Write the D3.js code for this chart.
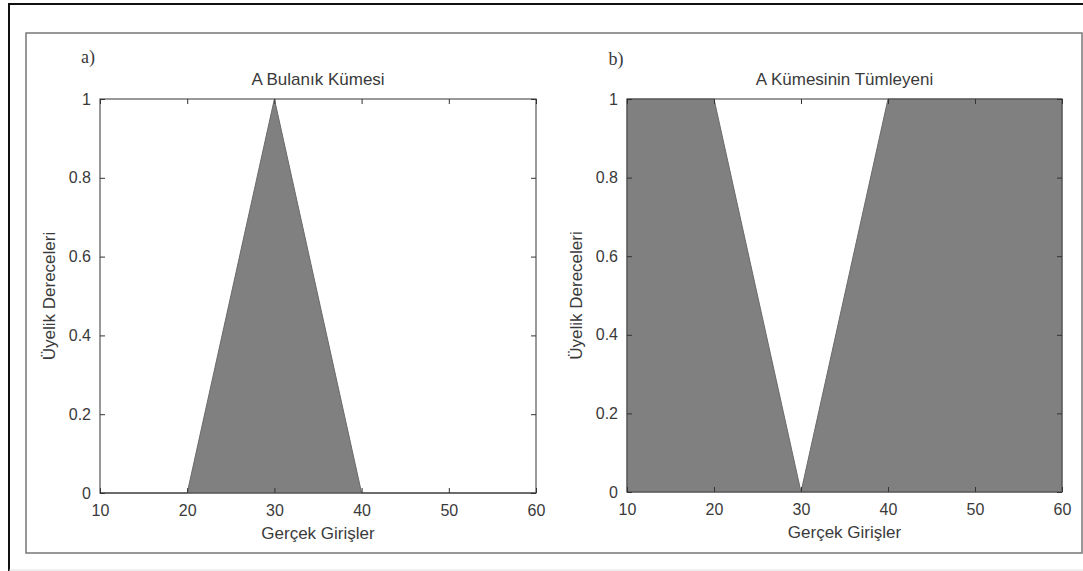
<!DOCTYPE html>
<html>
<head>
<meta charset="utf-8">
<script src="https://cdn.jsdelivr.net/npm/d3@7"></script>
<style>
  body { margin: 0; background: #fff; }
  svg text { font-family: "Liberation Sans", Arial, sans-serif; fill: #3a3a3a; }
</style>
</head>
<body>
<svg id="fig" width="1083" height="571"></svg>
<script>
// breakpoints of the triangular fuzzy set A and its complement
var xPoints = [10, 20, 30, 40, 60];
var membershipA = [0, 0, 1, 0, 0];
var complementA = [1, 1, 0, 1, 1];
var xTicks = [10, 20, 30, 40, 50, 60];
var yTicks = [0, 0.2, 0.4, 0.6, 0.8, 1];
var panelTags = ["a)", "b)"];
var panelTitles = ["A Bulanık Kümesi", "A Kümesinin Tümleyeni"];
var xLabel = "Gerçek Girişler";
var yLabel = "Üyelik Dereceleri";

var svg = d3.select("#fig");

// outer frame: black on top and left, light line at bottom
svg.append("path").attr("d", "M9,571V4H1083")
    .attr("fill", "none").attr("stroke", "#111").attr("stroke-width", 2);
svg.append("line").attr("x1", 9).attr("x2", 1083).attr("y1", 570).attr("y2", 570)
    .attr("stroke", "#ddd").attr("stroke-width", 1);
// inner gray frame
svg.append("rect").attr("x", 26).attr("y", 33).attr("width", 1056).attr("height", 520)
    .attr("fill", "#fff").attr("stroke", "#777").attr("stroke-width", 1.5);

var panels = [
    { left: 100, right: 536, top: 99, bottom: 493, values: membershipA, tagX: 88, tagY: 63 },
    { left: 627, right: 1062, top: 99, bottom: 492, values: complementA, tagX: 616, tagY: 65 }
];

panels.forEach(function (p, k) {
    var x = d3.scaleLinear().domain([10, 60]).range([p.left, p.right]);
    var y = d3.scaleLinear().domain([0, 1]).range([p.bottom, p.top]);
    var g = svg.append("g");

    var pts = xPoints.map(function (d, i) { return [d, p.values[i]]; });
    var area = d3.area()
        .x(function (d) { return x(d[0]); })
        .y0(y(0))
        .y1(function (d) { return y(d[1]); });
    g.append("path").datum(pts)
        .attr("d", area)
        .attr("fill", "#808080")
        .attr("stroke", "#6a6a6a")
        .attr("stroke-width", 1);

    // box
    g.append("rect").attr("x", p.left).attr("y", p.top)
        .attr("width", p.right - p.left).attr("height", p.bottom - p.top)
        .attr("fill", "none").attr("stroke", "#555").attr("stroke-width", 1.2);

    var tl = 5;
    var axB = d3.axisBottom(x).tickValues(xTicks).tickSizeInner(-tl).tickSizeOuter(0).tickPadding(12);
    var axT = d3.axisTop(x).tickValues(xTicks).tickSizeInner(-tl).tickSizeOuter(0).tickFormat("");
    var axL = d3.axisLeft(y).tickValues(yTicks).tickSizeInner(-tl).tickSizeOuter(0).tickPadding(9)
        .tickFormat(function (d) { return d3.format("~g")(d); });
    var axR = d3.axisRight(y).tickValues(yTicks).tickSizeInner(-tl).tickSizeOuter(0).tickFormat("");

    [[axB, "translate(0," + p.bottom + ")"], [axT, "translate(0," + p.top + ")"],
     [axL, "translate(" + p.left + ",0)"], [axR, "translate(" + p.right + ",0)"]].forEach(function (a) {
        var ax = g.append("g").attr("transform", a[1]).call(a[0]);
        ax.select(".domain").remove();
        ax.selectAll("line").attr("stroke", "#333");
        ax.selectAll("text").style("font-size", "16px").attr("fill", "#3a3a3a")
            .style("font-family", "'Liberation Sans', Arial, sans-serif");
    });

    var cx = (p.left + p.right) / 2;
    g.append("text").attr("x", cx).attr("y", p.top - 14).attr("text-anchor", "middle")
        .style("font-size", "17px").text(panelTitles[k]);
    g.append("text").attr("x", cx).attr("y", p.bottom + 46).attr("text-anchor", "middle")
        .style("font-size", "17px").text(xLabel);
    g.append("text").attr("transform", "translate(" + (p.left - 45) + "," + ((p.top + p.bottom) / 2) + ") rotate(-90)")
        .attr("text-anchor", "middle").style("font-size", "17px").text(yLabel);
    g.append("text").attr("x", p.tagX).attr("y", p.tagY).attr("text-anchor", "middle")
        .style("font-size", "18px").style("font-family", "'Liberation Serif', serif").text(panelTags[k]);
});
</script>
</body>
</html>
